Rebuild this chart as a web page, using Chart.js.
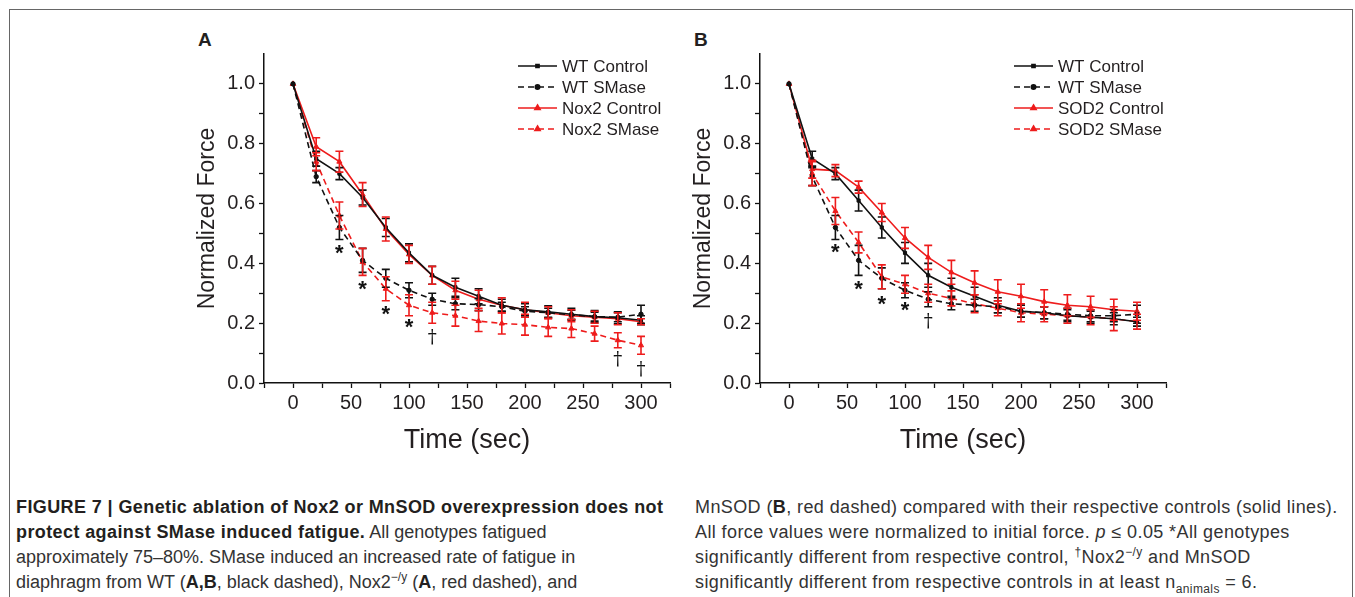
<!DOCTYPE html>
<html>
<head>
<meta charset="utf-8">
<script src="https://cdn.jsdelivr.net/npm/chart.js@4.4.0/dist/chart.umd.min.js"></script>
<style>
  body { margin: 0; width: 1355px; height: 597px; background: #fff; position: relative; overflow: hidden;
         font-family: "Liberation Sans", Arial, sans-serif; color: #231f20; }
  #frame { position: absolute; left: 9px; top: 9px; width: 1342px; height: 620px; border: 1.5px solid #666; border-bottom: none; }
  .panel { position: absolute; top: 20px; width: 510px; height: 440px; }
  .letter { position: absolute; top: 29px; font-weight: bold; font-size: 19px; }
  .cap { position: absolute; top: 495px; font-size: 18px; line-height: 25px; white-space: nowrap; color: #333; }
  .cap b { color: #231f20; }
  .cap .hd { letter-spacing: 0.4px; }
  .cap sup, .cap sub { font-size: 12px; line-height: 0; }
  #capR { letter-spacing: 0.4px; }
</style>
</head>
<body>
<div id="frame"></div>
<div class="letter" style="left:198px">A</div>
<div class="letter" style="left:694px">B</div>
<div class="panel" style="left:180px"><canvas id="chartA" width="510" height="440"></canvas></div>
<div class="panel" style="left:676px"><canvas id="chartB" width="510" height="440"></canvas></div>

<div class="cap" style="left:16px">
<b class="hd">FIGURE 7 | Genetic ablation of Nox2 or MnSOD overexpression does not<br>
protect against SMase induced fatigue.</b> All genotypes fatigued<br>
approximately 75–80%. SMase induced an increased rate of fatigue in<br>
diaphragm from WT (<b>A,B</b>, black dashed), Nox2<sup>−/y</sup> (<b>A</b>, red dashed), and
</div>
<div class="cap" id="capR" style="left:695px">
MnSOD (<b>B</b>, red dashed) compared with their respective controls (solid lines).<br>
All force values were normalized to initial force. <i>p</i> ≤ 0.05 *All genotypes<br>
significantly different from respective control, <sup>†</sup>Nox2<sup>−/y</sup> and MnSOD<br>
significantly different from respective controls in at least n<sub>animals</sub> = 6.
</div>

<script>
const time = [0, 20, 40, 60, 80, 100, 120, 140, 160, 180, 200, 220, 240, 260, 280, 300];

// Panel A
const wtControlA    = [1.0, 0.75, 0.70, 0.62, 0.52, 0.435, 0.36, 0.32, 0.29, 0.26, 0.245, 0.238, 0.23, 0.222, 0.218, 0.21];
const wtControlErrA = [0, 0.025, 0.02, 0.025, 0.03, 0.03, 0.03, 0.03, 0.025, 0.02, 0.02, 0.02, 0.02, 0.02, 0.02, 0.015];
const wtSmaseA      = [1.0, 0.69, 0.52, 0.41, 0.35, 0.31, 0.28, 0.265, 0.262, 0.255, 0.24, 0.235, 0.228, 0.222, 0.22, 0.23];
const wtSmaseErrA   = [0, 0.02, 0.04, 0.04, 0.03, 0.025, 0.02, 0.02, 0.02, 0.015, 0.015, 0.015, 0.015, 0.015, 0.015, 0.03];
const nox2Control   = [1.0, 0.79, 0.74, 0.63, 0.515, 0.43, 0.36, 0.31, 0.28, 0.26, 0.245, 0.235, 0.225, 0.22, 0.215, 0.205];
const nox2ControlErr= [0, 0.03, 0.035, 0.04, 0.04, 0.03, 0.03, 0.03, 0.03, 0.025, 0.025, 0.02, 0.02, 0.02, 0.02, 0.01];
const nox2Smase     = [1.0, 0.74, 0.56, 0.405, 0.315, 0.26, 0.235, 0.225, 0.207, 0.199, 0.195, 0.186, 0.182, 0.165, 0.143, 0.126];
const nox2SmaseErr  = [0, 0.03, 0.045, 0.045, 0.04, 0.035, 0.035, 0.035, 0.035, 0.035, 0.035, 0.03, 0.03, 0.025, 0.025, 0.03];
const starTimesA  = [40, 60, 80, 100];
const starLevelsA = [0.445, 0.325, 0.24, 0.197];
const dagTimesA   = [120, 280, 300];
const dagLevelsA  = [0.15, 0.077, 0.043];

// Panel B
const wtControlB    = [1.0, 0.75, 0.70, 0.61, 0.52, 0.435, 0.36, 0.32, 0.29, 0.26, 0.24, 0.235, 0.225, 0.22, 0.215, 0.205];
const wtControlErrB = [0, 0.025, 0.02, 0.035, 0.035, 0.035, 0.04, 0.03, 0.03, 0.025, 0.02, 0.02, 0.02, 0.02, 0.02, 0.015];
const wtSmaseB      = [1.0, 0.69, 0.52, 0.41, 0.35, 0.31, 0.28, 0.265, 0.26, 0.255, 0.24, 0.235, 0.23, 0.225, 0.225, 0.23];
const wtSmaseErrB   = [0, 0.03, 0.04, 0.05, 0.035, 0.025, 0.025, 0.02, 0.02, 0.02, 0.02, 0.02, 0.02, 0.02, 0.02, 0.03];
const sod2Control   = [1.0, 0.715, 0.71, 0.655, 0.57, 0.485, 0.42, 0.37, 0.335, 0.305, 0.29, 0.272, 0.26, 0.255, 0.245, 0.24];
const sod2ControlErr= [0, 0.03, 0.02, 0.02, 0.03, 0.035, 0.04, 0.04, 0.04, 0.04, 0.04, 0.04, 0.035, 0.035, 0.035, 0.03];
const sod2Smase     = [1.0, 0.70, 0.575, 0.47, 0.355, 0.33, 0.30, 0.283, 0.265, 0.25, 0.235, 0.23, 0.225, 0.22, 0.215, 0.205];
const sod2SmaseErr  = [0, 0.04, 0.045, 0.035, 0.04, 0.03, 0.03, 0.025, 0.03, 0.025, 0.03, 0.025, 0.025, 0.025, 0.04, 0.025];
const starTimesB  = [40, 60, 80, 100];
const starLevelsB = [0.448, 0.325, 0.274, 0.254];
const dagTimesB   = [120];
const dagLevelsB  = [0.204];

const RED = "#ee1c1c";
const BLACK = "#111";

function series(label, values, errs, color, dashed, style) {
  return {
    label: label,
    data: values.map((v, i) => ({ x: time[i], y: v })),
    errors: errs,
    borderColor: color,
    backgroundColor: color,
    borderWidth: 1.6,
    borderDash: dashed ? [6, 4] : [],
    pointStyle: style,
    pointRadius: style === "triangle" ? 3 : 2.2,
    pointBorderWidth: 1,
    tension: 0,
    fill: false,
  };
}

// vertical error bars with caps
const errorBars = {
  id: "errorBars",
  afterDatasetsDraw(chart) {
    const ctx = chart.ctx;
    const y = chart.scales.y;
    chart.data.datasets.forEach((ds, i) => {
      const meta = chart.getDatasetMeta(i);
      ctx.save();
      ctx.strokeStyle = ds.borderColor;
      ctx.lineWidth = 1.6;
      meta.data.forEach((pt, j) => {
        const e = ds.errors[j];
        if (!e) return;
        const v = ds.data[j].y;
        const top = y.getPixelForValue(v + e);
        const bot = y.getPixelForValue(v - e);
        ctx.beginPath();
        ctx.moveTo(pt.x, top); ctx.lineTo(pt.x, bot);
        ctx.moveTo(pt.x - 4, top); ctx.lineTo(pt.x + 4, top);
        ctx.moveTo(pt.x - 4, bot); ctx.lineTo(pt.x + 4, bot);
        ctx.stroke();
      });
      ctx.restore();
    });
  },
};

// legend drawn inside the plot, upper right
const innerLegend = {
  id: "innerLegend",
  afterDraw(chart) {
    const ctx = chart.ctx;
    const area = chart.chartArea;
    const x0 = area.right - 152, x1 = area.right - 113;
    ctx.save();
    chart.data.datasets.forEach((ds, i) => {
      const yy = area.top + 12 + i * 21;
      ctx.strokeStyle = ds.borderColor;
      ctx.lineWidth = 1.6;
      ctx.setLineDash(ds.borderDash);
      ctx.beginPath(); ctx.moveTo(x0, yy); ctx.lineTo(x1, yy); ctx.stroke();
      ctx.setLineDash([]);
      ctx.fillStyle = ds.borderColor;
      Chart.helpers.drawPoint(ctx, { pointStyle: ds.pointStyle, radius: ds.pointRadius, borderWidth: 1 }, (x0 + x1) / 2, yy);
      ctx.fillStyle = "#231f20";
      ctx.font = "17px 'Liberation Sans', Arial, sans-serif";
      ctx.textBaseline = "middle";
      ctx.fillText(ds.label, x1 + 5, yy + 1);
    });
    ctx.restore();
  },
};

// significance marks
const sigMarks = {
  id: "sigMarks",
  afterDatasetsDraw(chart, args, opts) {
    const ctx = chart.ctx;
    const xs = chart.scales.x, ys = chart.scales.y;
    ctx.save();
    ctx.fillStyle = "#111";
    ctx.textAlign = "center";
    ctx.textBaseline = "middle";
    ctx.font = "bold 22px 'Liberation Sans', Arial, sans-serif";
    opts.starTimes.forEach((t, k) => {
      ctx.fillText("*", xs.getPixelForValue(t), ys.getPixelForValue(opts.starLevels[k]) + 4);
    });
    ctx.font = "18px 'DejaVu Serif', serif";
    opts.dagTimes.forEach((t, k) => {
      ctx.fillText("†", xs.getPixelForValue(t), ys.getPixelForValue(opts.dagLevels[k]));
    });
    ctx.restore();
  },
};

function makeChart(id, datasets, marks) {
  new Chart(document.getElementById(id), {
    type: "line",
    data: { datasets: datasets },
    plugins: [errorBars, innerLegend, sigMarks],
    options: {
      responsive: false,
      animation: false,
      layout: { padding: { top: 34, right: 20, left: 0, bottom: 0 } },
      plugins: {
        legend: { display: false },
        tooltip: { enabled: false },
        sigMarks: marks,
      },
      scales: {
        x: {
          type: "linear",
          min: -25,
          max: 325,
          afterBuildTicks: (scale) => {
            const t = [];
            for (let v = -25; v <= 325; v += 25) t.push({ value: v });
            scale.ticks = t;
          },
          afterFit: (scale) => { scale.height = 77; },
          border: { color: "#111", width: 1.5 },
          grid: { drawOnChartArea: false, drawTicks: true, tickLength: 5, color: "#111", tickWidth: 1.3 },
          ticks: {
            color: "#231f20",
            font: { size: 20, family: "'Liberation Sans', Arial, sans-serif" },
            padding: 3,
            maxRotation: 0,
            autoSkip: false,
            callback: (v) => (v >= 0 && v % 50 === 0 ? String(v) : ""),
          },
          title: {
            display: true,
            text: "Time (sec)",
            color: "#231f20",
            font: { size: 27, family: "'Liberation Sans', Arial, sans-serif" },
            padding: { top: 0, bottom: 3 },
          },
        },
        y: {
          min: 0,
          max: 1.1,
          afterBuildTicks: (scale) => {
            const t = [];
            for (let k = 0; k <= 10; k++) t.push({ value: k / 10 });
            scale.ticks = t;
          },
          afterFit: (scale) => { scale.width = 84; },
          border: { color: "#111", width: 1.5 },
          grid: { drawOnChartArea: false, drawTicks: true, tickLength: 5, color: "#111", tickWidth: 1.3 },
          ticks: {
            color: "#231f20",
            font: { size: 20, family: "'Liberation Sans', Arial, sans-serif" },
            padding: 4,
            autoSkip: false,
            callback: (v) => {
              const k = Math.round(v * 10);
              return k % 2 === 0 ? (k / 10).toFixed(1) : "";
            },
          },
          title: {
            display: true,
            text: "Normalized Force",
            color: "#231f20",
            font: { size: 23, family: "'Liberation Sans', Arial, sans-serif" },
            padding: { top: 14, bottom: 0 },
          },
        },
      },
    },
  });
}

makeChart("chartA", [
  series("WT Control", wtControlA, wtControlErrA, BLACK, false, "rect"),
  series("WT SMase", wtSmaseA, wtSmaseErrA, BLACK, true, "circle"),
  series("Nox2 Control", nox2Control, nox2ControlErr, RED, false, "triangle"),
  series("Nox2 SMase", nox2Smase, nox2SmaseErr, RED, true, "triangle"),
], { starTimes: starTimesA, starLevels: starLevelsA, dagTimes: dagTimesA, dagLevels: dagLevelsA });

makeChart("chartB", [
  series("WT Control", wtControlB, wtControlErrB, BLACK, false, "rect"),
  series("WT SMase", wtSmaseB, wtSmaseErrB, BLACK, true, "circle"),
  series("SOD2 Control", sod2Control, sod2ControlErr, RED, false, "triangle"),
  series("SOD2 SMase", sod2Smase, sod2SmaseErr, RED, true, "triangle"),
], { starTimes: starTimesB, starLevels: starLevelsB, dagTimes: dagTimesB, dagLevels: dagLevelsB });
</script>
</body>
</html>
